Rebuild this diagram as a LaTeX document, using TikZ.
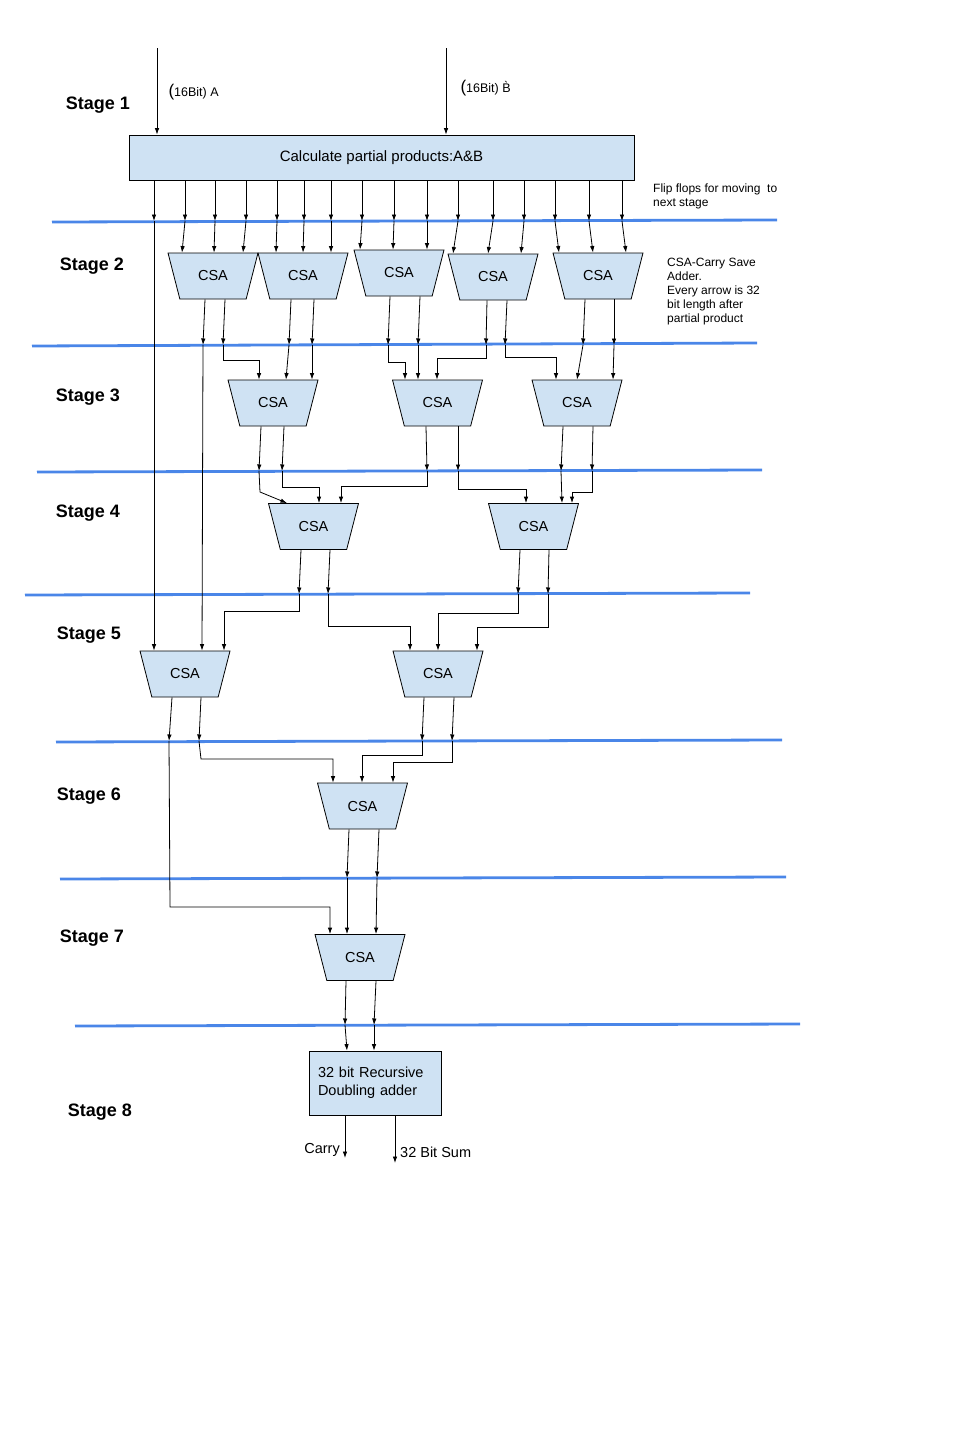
\documentclass[tikz,border=0pt]{standalone}
\usepackage{fontspec}
\setmainfont{Liberation Sans}
\usetikzlibrary{shapes.geometric,arrows.meta}
\definecolor{boxblue}{HTML}{CFE2F3}
\definecolor{lineblue}{HTML}{4A86E8}
\tikzset{
  every node/.style={text=black, font=\fontsize{14.5}{18}\selectfont},
  stage/.style={font=\fontsize{18}{20}\selectfont\bfseries},
  note/.style={font=\fontsize{12}{14}\selectfont, align=left, anchor=north west, inner sep=0pt},
  csa/.style={trapezium, shape border rotate=180, trapezium stretches=true, trapezium angle=69,
    minimum width=90pt, minimum height=46pt, draw=black, fill=boxblue, line width=0.8pt},
  box/.style={rectangle, draw=black, fill=boxblue, line width=0.8pt},
  wire/.style={draw=black, line width=0.8pt, -{Latex[length=6.5pt,width=4.5pt]}},
  sep/.style={draw=lineblue, line width=2.8pt}
}

\begin{document}
\begin{tikzpicture}[x=1pt, y=-1pt]
  \useasboundingbox (0,0) rectangle (960,1440);

  % stage separators
  \draw[sep] (52,222) -- (777,220);
  \draw[sep] (32,346) -- (757,343);
  \draw[sep] (37,472) -- (762,470);
  \draw[sep] (25,595) -- (750,593);
  \draw[sep] (56,742) -- (782,740);
  \draw[sep] (60,879) -- (786,877);
  \draw[sep] (75,1026) -- (800,1024);
  \coordinate (l1) at (0,221);
  \coordinate (l2) at (0,345);
  \coordinate (l3) at (0,471);
  \coordinate (l4) at (0,594);
  \coordinate (l5) at (0,741);
  \coordinate (l6) at (0,878);
  \coordinate (l7) at (0,1025);

  % stage labels
  \node[stage] (s1) at (98,105) {Stage 1};
  \node[stage] (s2) at (92,266) {Stage 2};
  \node[stage] (s3) at (88,397) {Stage 3};
  \node[stage] (s4) at (88,513) {Stage 4};
  \node[stage] (s5) at (89,635) {Stage 5};
  \node[stage] (s6) at (89,796) {Stage 6};
  \node[stage] (s7) at (92,938) {Stage 7};
  \node[stage] (s8) at (100,1112) {Stage 8};

  % blocks
  \node[box, minimum width=505pt, minimum height=45pt, font=\fontsize{15}{18}\selectfont] (pp) at (381.5,157.5)
    {Calculate partial products:A\&B};
  \node[csa] (c21) at (213,276) {CSA};
  \node[csa] (c22) at (303,276) {CSA};
  \node[csa] (c23) at (399,273) {CSA};
  \node[csa] (c24) at (493,277) {CSA};
  \node[csa] (c25) at (598,276) {CSA};
  \node[csa] (c31) at (273,403) {CSA};
  \node[csa] (c32) at (437.5,403) {CSA};
  \node[csa] (c33) at (577,403) {CSA};
  \node[csa] (c41) at (313.5,526.5) {CSA};
  \node[csa] (c42) at (533.5,526.5) {CSA};
  \node[csa] (c51) at (185,674) {CSA};
  \node[csa] (c52) at (438,674) {CSA};
  \node[csa] (c61) at (362.5,806) {CSA};
  \node[csa] (c71) at (360,957.5) {CSA};
  \node[box, minimum width=132pt, minimum height=64pt, text width=114pt, align=left] (add) at (375,1083)
    {32 bit Recursive\\Doubling adder};

  % notes
  \node[note] (ffnote) at (653,184) {Flip flops for moving\ \ to\\next stage};
  \node[note] (csanote) at (667,258) {CSA-Carry Save\\Adder.\\Every arrow is 32\\bit length after\\partial product};

  % inputs
  \coordinate (inA) at (157,48);
  \coordinate (inB) at (446,48);
  \draw[wire] (inA) -- (inA |- pp.north);
  \draw[wire] (inB) -- (inB |- pp.north);
  \node[anchor=west, font=\fontsize{12.5}{14}\selectfont] (labA) at (165,92) {{\fontsize{17}{18}\selectfont(}16Bit) A};
  \node[anchor=west, font=\fontsize{12.5}{14}\selectfont] (labB) at (457,88) {{\fontsize{17}{18}\selectfont(}16Bit) \`B};

  % partial products -> stage 2
  \foreach \xs in {154,185,215,246,277,304,331,362,394,427,458,493,524,555,589,622}
    \draw[wire] (pp.south -| \xs,0) -- (\xs,0 |- l1);
  \foreach \nd/\xs/\xe in {c21/185/182, c21/215/214, c21/246/243, c22/277/276, c22/304/303, c22/331/331,
      c23/362/360, c23/394/393, c23/427/427, c24/458/453, c24/493/488, c24/524/521,
      c25/555/559, c25/589/593, c25/622/626}
    \draw[wire] (\xs,0 |- l1) -- (\xe,0 |- \nd.north);
  \draw[wire] (154,0 |- l1) -- (154,0 |- c51.north);

  % stage 2 -> stage 3
  \foreach \nd/\xs/\xe in {c21/205/203, c21/225/223, c22/291/289, c22/314/312, c23/390/388, c23/420/418,
      c24/487/486, c24/507/505, c25/585/583, c25/614/614}
    \draw[wire] (\xs,0 |- \nd.south) -- (\xe,0 |- l2);
  \draw[wire] (203,0 |- l2) -- (202,0 |- c51.north);
  \draw[wire] (223,0 |- l2) -- (223,360) -- (259,360) -- (259,0 |- c31.north);
  \draw[wire] (289,0 |- l2) -- (286,0 |- c31.north);
  \draw[wire] (312,0 |- l2) -- (312,0 |- c31.north);
  \draw[wire] (388,0 |- l2) -- (388,362) -- (405,362) -- (405,0 |- c32.north);
  \draw[wire] (418,0 |- l2) -- (418,0 |- c32.north);
  \draw[wire] (486,0 |- l2) -- (486,358) -- (437,358) -- (437,0 |- c32.north);
  \draw[wire] (505,0 |- l2) -- (505,357) -- (556,357) -- (556,0 |- c33.north);
  \draw[wire] (583,0 |- l2) -- (577,0 |- c33.north);
  \draw[wire] (614,0 |- l2) -- (613,0 |- c33.north);

  % stage 3 -> stage 4
  \foreach \nd/\xs/\xe in {c31/261/259, c31/284/282, c32/426/427, c32/458/458, c33/563/561, c33/593/592}
    \draw[wire] (\xs,0 |- \nd.south) -- (\xe,0 |- l3);
  \draw[wire] (259,0 |- l3) -- (260,492) -- (287,0 |- c41.north);
  \draw[wire] (282,0 |- l3) -- (282,487) -- (319,487) -- (319,0 |- c41.north);
  \draw[wire] (427,0 |- l3) -- (427,486) -- (341,486) -- (341,0 |- c41.north);
  \draw[wire] (458,0 |- l3) -- (458,489) -- (526,489) -- (526,0 |- c42.north);
  \draw[wire] (561,0 |- l3) -- (562,0 |- c42.north);
  \draw[wire] (592,0 |- l3) -- (592,492) -- (572,492) -- (572,0 |- c42.north);

  % stage 4 -> stage 5
  \foreach \nd/\xs/\xe in {c41/301/299, c41/330/328, c42/520/518, c42/549/548}
    \draw[wire] (\xs,0 |- \nd.south) -- (\xe,0 |- l4);
  \draw[wire] (299,0 |- l4) -- (299,611) -- (224,611) -- (224,0 |- c51.north);
  \draw[wire] (328,0 |- l4) -- (328,626) -- (410,626) -- (410,0 |- c52.north);
  \draw[wire] (518,0 |- l4) -- (518,613) -- (438,613) -- (438,0 |- c52.north);
  \draw[wire] (548,0 |- l4) -- (548,627) -- (477,627) -- (477,0 |- c52.north);

  % stage 5 -> stage 6 / 7
  \foreach \nd/\xs/\xe in {c51/172/169, c51/201/199, c52/424/422, c52/454/452}
    \draw[wire] (\xs,0 |- \nd.south) -- (\xe,0 |- l5);
  \draw[wire] (169,0 |- l5) -- (170,907) -- (330,907) -- (330,0 |- c71.north);
  \draw[wire] (199,0 |- l5) -- (201,759) -- (333,759) -- (333,0 |- c61.north);
  \draw[wire] (422,0 |- l5) -- (422,755) -- (362,755) -- (362,0 |- c61.north);
  \draw[wire] (452,0 |- l5) -- (452,762) -- (393,762) -- (393,0 |- c61.north);

  % stage 6 -> stage 7 -> stage 8
  \foreach \nd/\xs/\xe in {c61/349/347, c61/379/377}
    \draw[wire] (\xs,0 |- \nd.south) -- (\xe,0 |- l6);
  \draw[wire] (347,0 |- l6) -- (347,0 |- c71.north);
  \draw[wire] (377,0 |- l6) -- (376,0 |- c71.north);
  \foreach \nd/\xs/\xe in {c71/346/345, c71/376/374}
    \draw[wire] (\xs,0 |- \nd.south) -- (\xe,0 |- l7);
  \draw[wire] (345,0 |- l7) -- (347,0 |- add.north);
  \draw[wire] (374,0 |- l7) -- (374,0 |- add.north);

  % outputs
  \coordinate (carry) at (345,1158);
  \coordinate (sum) at (395,1163);
  \draw[wire] (add.south -| carry) -- (carry);
  \draw[wire] (add.south -| sum) -- (sum);
  \node[anchor=east, inner sep=1pt] (carrylab) at (341,1150) {Carry};
  \node[anchor=west, inner sep=1pt] (sumlab) at (399,1152) {32 Bit Sum};
\end{tikzpicture}
\end{document}
